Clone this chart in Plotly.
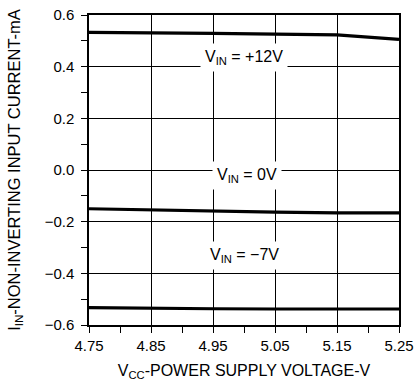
import plotly.graph_objects as go

vcc = [4.75, 4.85, 4.95, 5.05, 5.15, 5.25]
iin_p12 = [0.533, 0.532, 0.529, 0.526, 0.523, 0.506]
iin_0 = [-0.150, -0.155, -0.159, -0.163, -0.166, -0.166]
iin_m7 = [-0.533, -0.536, -0.537, -0.538, -0.538, -0.538]

labels = ["V<sub>IN</sub> = +12V", "V<sub>IN</sub> = 0V", "V<sub>IN</sub> = −7V"]
label_x = [5.0, 5.005, 5.0]
label_y = [0.435, -0.02, -0.33]

xticks = [4.75, 4.85, 4.95, 5.05, 5.15, 5.25]
yticks = [0.6, 0.4, 0.2, 0.0, -0.2, -0.4, -0.6]

FONT = "Liberation Sans, Arial, sans-serif"

fig = go.Figure()
for ys in (iin_p12, iin_0, iin_m7):
    fig.add_trace(go.Scatter(x=vcc, y=ys, mode="lines",
                             line=dict(color="black", width=3.2),
                             showlegend=False, hoverinfo="skip"))

for t, x, y in zip(labels, label_x, label_y):
    fig.add_annotation(x=x, y=y, text=t, showarrow=False,
                       font=dict(family=FONT, size=16, color="black"),
                       bgcolor="white", borderpad=4,
                       xanchor="center", yanchor="middle")

fig.update_xaxes(range=[4.75, 5.25], tickvals=xticks,
                 ticktext=[f"{v:.2f}" for v in xticks],
                 showgrid=True, gridcolor="black", gridwidth=1,
                 showline=True, linecolor="black", linewidth=1.5, mirror=True,
                 ticks="outside", ticklen=6, tickcolor="black", tickwidth=1,
                 minor=dict(dtick=0.05, tick0=4.75, ticks="outside", ticklen=6,
                            tickcolor="black", showgrid=False),
                 zeroline=False, automargin=False,
                 tickfont=dict(family=FONT, size=15, color="black"),
                 title=dict(text="V<sub>CC</sub>-POWER SUPPLY VOLTAGE-V",
                            font=dict(family=FONT, size=16, color="black"),
                            standoff=12))
fig.update_yaxes(range=[-0.6, 0.6], tickvals=yticks,
                 ticktext=[f"{v:.1f}".replace("-", "−") for v in yticks],
                 showgrid=True, gridcolor="black", gridwidth=1,
                 showline=True, linecolor="black", linewidth=1.5, mirror=True,
                 ticks="outside", ticklen=6, tickcolor="black", tickwidth=1,
                 minor=dict(dtick=0.1, tick0=0, ticks="outside", ticklen=6,
                            tickcolor="black", showgrid=False),
                 zeroline=False, automargin=False, ticklabelstandoff=4,
                 tickfont=dict(family=FONT, size=15, color="black"),
                 title=dict(text="I<sub>IN</sub>-NON-INVERTING INPUT CURRENT-mA",
                            font=dict(family=FONT, size=16.5, color="black"),
                            standoff=20))

fig.update_layout(width=415, height=392,
                  margin=dict(l=89, r=16, t=15, b=67),
                  plot_bgcolor="white", paper_bgcolor="white")

fig.write_html("out.html", config={"displayModeBar": False},
               post_script="document.body.style.margin='0';document.body.style.overflow='hidden';")
